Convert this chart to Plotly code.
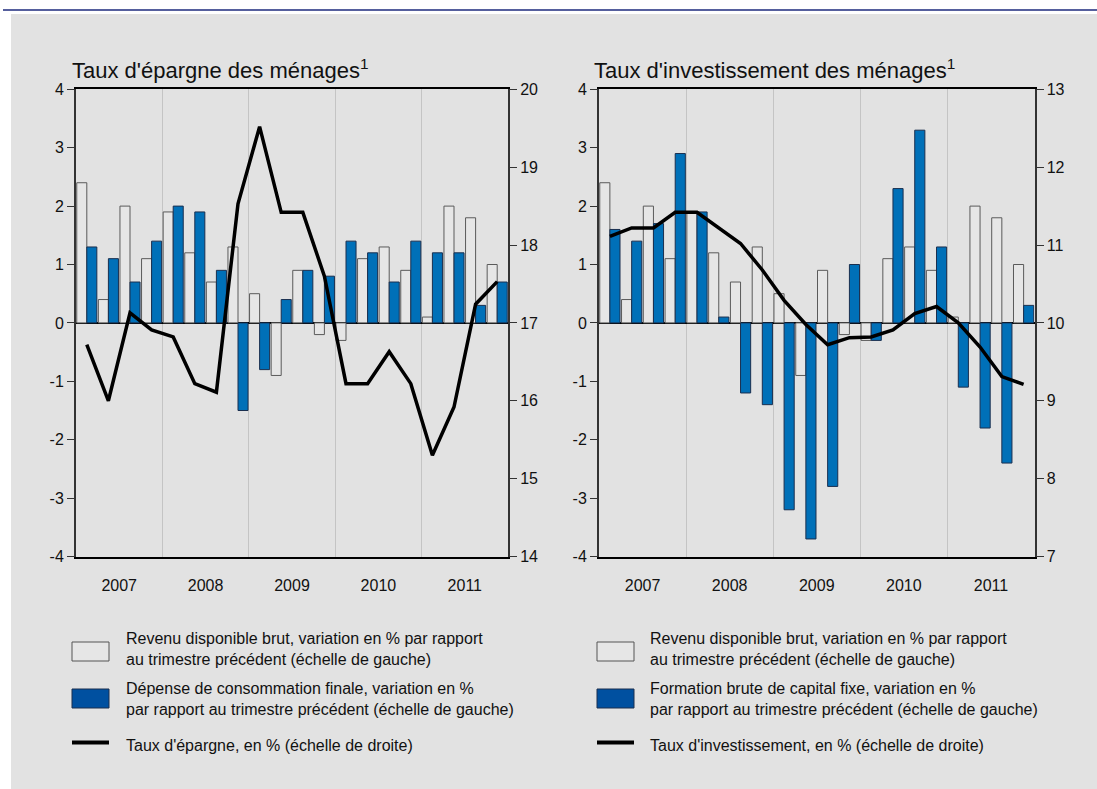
import plotly.graph_objects as go
from plotly.subplots import make_subplots

# données trimestrielles 2007T1 - 2011T4
years = ["2007", "2008", "2009", "2010", "2011"]
quarters = [f"{y}T{q}" for y in years for q in range(1, 5)]

revenu = [2.4, 0.4, 2.0, 1.1, 1.9, 1.2, 0.7, 1.3, 0.5, -0.9,
          0.9, -0.2, -0.3, 1.1, 1.3, 0.9, 0.1, 2.0, 1.8, 1.0]
consommation = [1.3, 1.1, 0.7, 1.4, 2.0, 1.9, 0.9, -1.5, -0.8, 0.4,
                0.9, 0.8, 1.4, 1.2, 0.7, 1.4, 1.2, 1.2, 0.3, 0.7]
taux_epargne = [16.72, 16.0, 17.13, 16.91, 16.82, 16.22, 16.11, 18.53, 19.52, 18.42,
                18.42, 17.6, 16.22, 16.22, 16.63, 16.22, 15.3, 15.92, 17.24, 17.53]
fbcf = [1.6, 1.4, 1.7, 2.9, 1.9, 0.1, -1.2, -1.4, -3.2, -3.7,
        -2.8, 1.0, -0.3, 2.3, 3.3, 1.3, -1.1, -1.8, -2.4, 0.3]
taux_invest = [11.11, 11.22, 11.22, 11.42, 11.42, 11.22, 11.02, 10.68, 10.29, 9.98,
               9.72, 9.81, 9.82, 9.91, 10.12, 10.21, 10.0, 9.69, 9.31, 9.21]

left_ticks = [-4, -3, -2, -1, 0, 1, 2, 3, 4]
epargne_ticks = [14, 15, 16, 17, 18, 19, 20]
invest_ticks = [7, 8, 9, 10, 11, 12, 13]

W, H = 1097, 789
GREY_BG = '#e2e2e2'
BAR_GREY = '#e6e6e6'
BAR_BLUE = '#0070b8'
LEG_BLUE = '#0050a0'
FONT = 'Liberation Sans, Arial, sans-serif'

x = list(range(len(quarters)))

fig = make_subplots(rows=1, cols=2, specs=[[{"secondary_y": True}, {"secondary_y": True}]])

for col, blue_vals, line_vals in [(1, consommation, taux_epargne), (2, fbcf, taux_invest)]:
    fig.add_trace(go.Bar(x=x, y=revenu, marker_color=BAR_GREY,
                         marker_line=dict(color='#5a5a5a', width=1), showlegend=False),
                  row=1, col=col, secondary_y=False)
    fig.add_trace(go.Bar(x=x, y=blue_vals, marker_color=BAR_BLUE,
                         marker_line=dict(color='#1a2f4f', width=1), showlegend=False),
                  row=1, col=col, secondary_y=False)
    fig.add_trace(go.Scatter(x=x, y=line_vals, mode='lines',
                             line=dict(color='black', width=3.5), showlegend=False),
                  row=1, col=col, secondary_y=True)

def px_x(v):
    return v / W

def px_y(v):
    return 1 - v / H

def yticks(vals):
    # trait d'union plutôt que le signe moins unicode
    return dict(tickmode='array', tickvals=vals, ticktext=[str(v) for v in vals])

ydom = [px_y(556.5), px_y(89.3)]
year_pos = [4 * i + 1.5 for i in range(len(years))]
bounds = [4 * i - 0.5 for i in range(1, len(years))]

xcommon = dict(range=[-0.5, len(quarters) - 0.5], tickmode='array', tickvals=year_pos,
               ticktext=years, ticks='', ticklabelstandoff=14, showgrid=False,
               showline=True, linecolor='black', linewidth=1.5, mirror=True,
               zeroline=False, tickfont=dict(size=16, color='#111'), automargin=False,
               minor=dict(tickmode='array', tickvals=bounds, showgrid=True,
                          gridcolor='#c4c4c4', gridwidth=1, ticks=''))
ycommon = dict(ticks='outside', ticklen=7, tickwidth=1, tickcolor='#333',
               showgrid=False, showline=True, linecolor='#333', linewidth=2,
               tickfont=dict(size=16, color='#111'), automargin=False)

fig.update_layout(
    xaxis=dict(domain=[px_x(76), px_x(508)], **xcommon),
    xaxis2=dict(domain=[px_x(599), px_x(1034.5)], **xcommon),
    yaxis=dict(domain=ydom, range=[-4, 4], zeroline=True, zerolinecolor='black',
               zerolinewidth=1.5, **yticks(left_ticks), **ycommon),
    yaxis2=dict(domain=ydom, range=[14, 20], zeroline=False, **yticks(epargne_ticks), **ycommon),
    yaxis3=dict(domain=ydom, range=[-4, 4], zeroline=True, zerolinecolor='black',
                zerolinewidth=1.5, **yticks(left_ticks), **ycommon),
    yaxis4=dict(domain=ydom, range=[7, 13], zeroline=False, **yticks(invest_ticks), **ycommon),
    barmode='group', bargap=0.07, bargroupgap=0,
    width=W, height=H, margin=dict(l=0, r=0, t=0, b=0, autoexpand=False),
    paper_bgcolor='white', plot_bgcolor='white',
    font=dict(family=FONT, color='#111'),
)

# fond gris et filet bleu du haut
fig.add_shape(type='rect', xref='paper', yref='paper', x0=px_x(11), x1=1, y0=0, y1=px_y(14),
              fillcolor=GREY_BG, line_width=0, layer='below')
fig.add_shape(type='line', xref='paper', yref='paper', x0=px_x(3), x1=1, y0=px_y(10), y1=px_y(10),
              line=dict(color='#1c2a7c', width=1.5))

titles = [(70, "Taux d'épargne des ménages<sup>1</sup>"),
          (592, "Taux d'investissement des ménages<sup>1</sup>")]
for tx, txt in titles:
    fig.add_annotation(x=px_x(tx), y=px_y(69), xref='paper', yref='paper', text=txt,
                       showarrow=False, xanchor='left', yanchor='middle',
                       font=dict(size=22, color='#111'))

legends = [
    (72, 124, ["Revenu disponible brut, variation en % par rapport<br>au trimestre précédent (échelle de gauche)",
               "Dépense de consommation finale, variation en %<br>par rapport au trimestre précédent (échelle de gauche)",
               "Taux d'épargne, en % (échelle de droite)"]),
    (597, 648, ["Revenu disponible brut, variation en % par rapport<br>au trimestre précédent (échelle de gauche)",
                "Formation brute de capital fixe, variation en %<br>par rapport au trimestre précédent (échelle de gauche)",
                "Taux d'investissement, en % (échelle de droite)"]),
]
for bx, tx, labels in legends:
    fig.add_shape(type='rect', xref='paper', yref='paper', x0=px_x(bx), x1=px_x(bx + 37),
                  y0=px_y(661), y1=px_y(642), fillcolor=BAR_GREY,
                  line=dict(color='#555', width=1))
    fig.add_shape(type='rect', xref='paper', yref='paper', x0=px_x(bx), x1=px_x(bx + 37),
                  y0=px_y(708), y1=px_y(689), fillcolor=LEG_BLUE,
                  line=dict(color='#1a2f4f', width=1))
    fig.add_shape(type='line', xref='paper', yref='paper', x0=px_x(bx), x1=px_x(bx + 37),
                  y0=px_y(742.5), y1=px_y(742.5), line=dict(color='black', width=4))
    for ty, lab in zip([649, 699, 745], labels):
        fig.add_annotation(x=px_x(tx), y=px_y(ty), xref='paper', yref='paper', text=lab,
                           showarrow=False, xanchor='left', yanchor='middle', align='left',
                           font=dict(size=16, color='#111'))

fig.write_html("out.html", config={'displayModeBar': False},
               post_script="document.body.style.margin = '0';")
